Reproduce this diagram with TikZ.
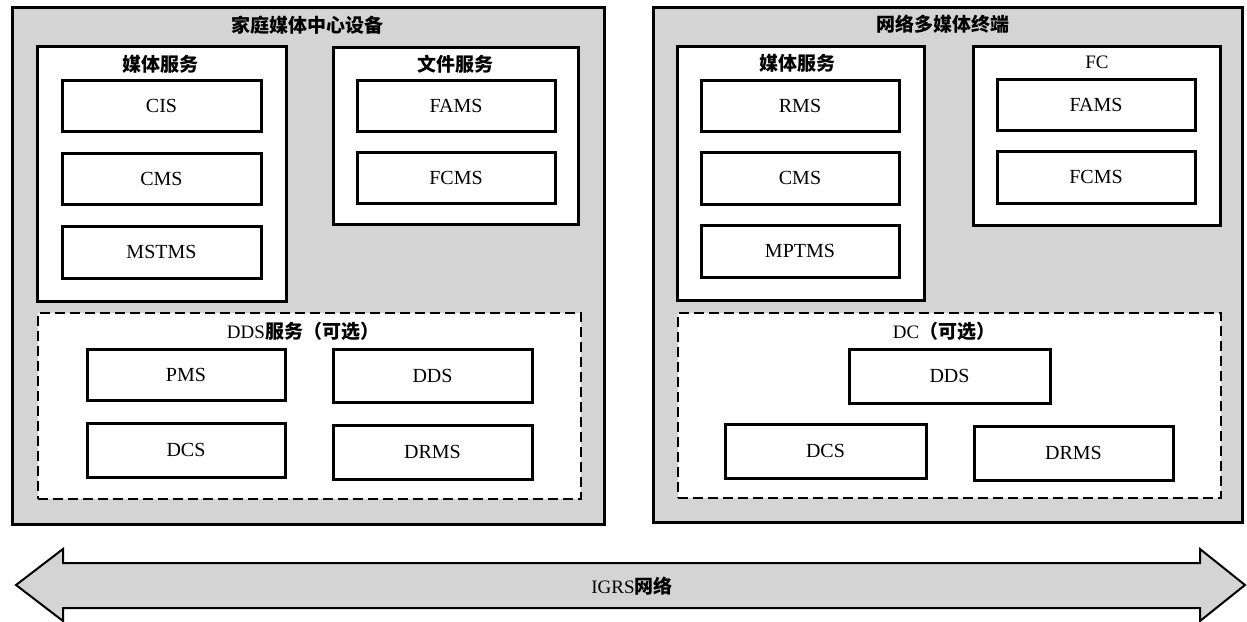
\documentclass[tikz,border=0pt]{standalone}
\usepackage{fontspec}
\setmainfont{Liberation Serif}
\newfontfamily\cjk{Noto Sans CJK SC}
\usetikzlibrary{fit}
\tikzset{
  outerbox/.style={draw, line width=1.5pt, fill=black!17, inner sep=0pt},
  groupbox/.style={draw, line width=1.5pt, fill=white, inner sep=0pt},
  dashbox/.style={draw, line width=1pt, dash pattern=on 5pt off 2.5pt, fill=white, inner sep=0pt},
  itembox/.style={draw, line width=1.5pt, fill=white, inner sep=0pt, font=\fontsize{10}{12}\selectfont},
  ttl/.style={inner sep=0pt, font=\fontsize{9.5}{11}\selectfont},
  netarrow/.style={draw, line width=1pt, fill=black!17, line join=miter},
}
\newcommand\cb[1]{{\cjk\bfseries #1}}
% item box from its corners (x1,y1) (x2,y2), in picture units
\newcommand\itm[6]{\node[itembox, minimum width={(#4-#2)*0.5pt}, minimum height={(#5-#3)*0.5pt}] (#1) at ({(#2+#4)/2},{(#3+#5)/2}) {#6};}
\begin{document}
\begin{tikzpicture}[x=0.5pt,y=-0.5pt]
\useasboundingbox (0,0) rectangle (1247,621);

% ---------- left device ----------
\node[outerbox, fit={(12,7) (604,524)}] (outerL) {};
\node[ttl] (titleL) at (307,25) {\cb{家庭媒体中心设备}};

\node[groupbox, fit={(37,46) (286,301)}] (mediaL) {};
\node[ttl] (mediaLt) at (160,64) {\cb{媒体服务}};
\itm{cisL}{62}{80}{261}{131}{CIS}
\itm{cmsL}{62}{153}{261}{204}{CMS}
\itm{mstmsL}{62}{226}{261}{278}{MSTMS}

\node[groupbox, fit={(333,47) (578,224)}] (fileL) {};
\node[ttl] (fileLt) at (455,64) {\cb{文件服务}};
\itm{famsL}{357}{80}{555}{131}{FAMS}
\itm{fcmsL}{357}{152}{555}{203}{FCMS}

\node[dashbox, fit={(38,313) (581,499)}] (ddsL) {};
\node[ttl] (ddsLt) at (303,331) {DDS\cb{服务（可选）}};
\itm{pmsL}{87}{349}{285}{400}{PMS}
\itm{ddsboxL}{333}{349}{532}{402}{DDS}
\itm{dcsL}{87}{423}{285}{477}{DCS}
\itm{drmsL}{333}{425}{532}{479}{DRMS}

% ---------- right device ----------
\node[outerbox, fit={(653,7) (1242,522)}] (outerR) {};
\node[ttl] (titleR) at (943,24) {\cb{网络多媒体终端}};

\node[groupbox, fit={(677,46) (924,300)}] (mediaR) {};
\node[ttl] (mediaRt) at (797,63) {\cb{媒体服务}};
\itm{rmsR}{701}{80}{899}{131}{RMS}
\itm{cmsR}{701}{152}{899}{204}{CMS}
\itm{mptmsR}{701}{225}{899}{277}{MPTMS}

\node[groupbox, fit={(973,46) (1220,225)}] (fcR) {};
\node[ttl] (fcRt) at (1097,62) {FC};
\itm{famsR}{997}{79}{1195}{130}{FAMS}
\itm{fcmsR}{997}{151}{1195}{203}{FCMS}

\node[dashbox, fit={(678,313) (1221,498)}] (dcR) {};
\node[ttl] (dcRt) at (944,331) {DC\cb{（可选）}};
\itm{ddsR}{849}{349}{1050}{403}{DDS}
\itm{dcsR}{725}{424}{926}{478}{DCS}
\itm{drmsR}{974}{426}{1173}{480}{DRMS}

% ---------- network arrow ----------
\draw[netarrow] (16,585) -- (63,549) -- (63,563) -- (1200,563) -- (1200,549)
  -- (1245,585) -- (1200,621) -- (1200,608) -- (63,608) -- (63,621) -- cycle;
\node[ttl] (igrs) at (632,586) {IGRS\cb{网络}};
\end{tikzpicture}
\end{document}
